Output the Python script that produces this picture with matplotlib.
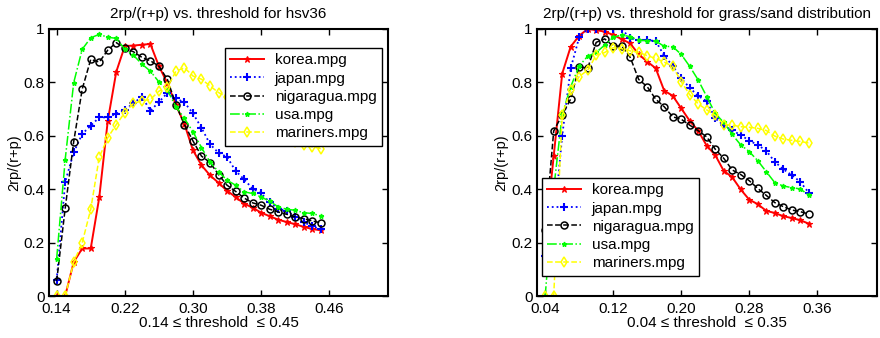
import numpy as np
import matplotlib
matplotlib.use("Agg")
import matplotlib.pyplot as plt

plt.rcParams['font.family'] = ['Liberation Sans', 'DejaVu Sans']

# threshold sweeps
thr_hsv = np.round(np.arange(0.14, 0.455, 0.01), 2)
thr_gs = np.round(np.arange(0.04, 0.355, 0.01), 2)

names = ['korea.mpg', 'japan.mpg', 'nigaragua.mpg', 'usa.mpg', 'mariners.mpg']

# 2rp/(r+p) for hsv36
hsv_korea = [0, 0, 0.127, 0.178, 0.178, 0.369, 0.656, 0.84, 0.936, 0.938, 0.941, 0.944,
             0.861, 0.797, 0.716, 0.644, 0.546, 0.49, 0.452, 0.424, 0.394, 0.371, 0.346,
             0.331, 0.312, 0.299, 0.286, 0.277, 0.269, 0.259, 0.251, 0.246]
hsv_japan = [0.06, 0.427, 0.538, 0.607, 0.638, 0.669, 0.669, 0.683, 0.697, 0.721, 0.747,
             0.694, 0.726, 0.761, 0.74, 0.725, 0.684, 0.63, 0.569, 0.536, 0.521, 0.469,
             0.437, 0.402, 0.384, 0.352, 0.327, 0.319, 0.296, 0.277, 0.261, 0.251]
hsv_nigaragua = [0.056, 0.328, 0.578, 0.775, 0.886, 0.876, 0.921, 0.949, 0.927, 0.915,
                 0.894, 0.881, 0.861, 0.811, 0.717, 0.642, 0.581, 0.524, 0.5, 0.455, 0.415,
                 0.392, 0.367, 0.349, 0.34, 0.325, 0.315, 0.306, 0.296, 0.29, 0.281, 0.274]
hsv_usa = [0.14, 0.511, 0.799, 0.924, 0.967, 0.98, 0.969, 0.965, 0.924, 0.902, 0.869,
           0.842, 0.802, 0.771, 0.709, 0.665, 0.615, 0.556, 0.502, 0.465, 0.434, 0.415,
           0.39, 0.384, 0.371, 0.355, 0.334, 0.325, 0.321, 0.312, 0.309, 0.3]
hsv_mariners = [0, 0, 0.127, 0.2, 0.325, 0.52, 0.593, 0.642, 0.687, 0.721, 0.731, 0.736,
                0.767, 0.781, 0.842, 0.855, 0.824, 0.812, 0.787, 0.762, 0.745, 0.73, 0.71,
                0.69, 0.665, 0.645, 0.625, 0.6, 0.578, 0.565, 0.559, 0.552]

# 2rp/(r+p) for grass/sand distribution
gs_korea = [0.22, 0.524, 0.833, 0.934, 0.975, 1.0, 0.996, 0.99, 0.978, 0.962, 0.946,
            0.905, 0.878, 0.853, 0.769, 0.75, 0.703, 0.656, 0.619, 0.563, 0.528, 0.469,
            0.445, 0.399, 0.361, 0.344, 0.319, 0.311, 0.299, 0.292, 0.284, 0.271]
gs_japan = [0.15, 0.26, 0.6, 0.853, 0.969, 1.0, 1.0, 1.0, 1.0, 1.0, 0.965, 0.958,
            0.958, 0.955, 0.9, 0.862, 0.815, 0.78, 0.749, 0.73, 0.665, 0.64, 0.62, 0.603,
            0.582, 0.566, 0.544, 0.503, 0.475, 0.453, 0.428, 0.387]
gs_nigaragua = [0.247, 0.618, 0.678, 0.738, 0.859, 0.853, 0.95, 0.963, 0.936, 0.936,
                0.894, 0.811, 0.784, 0.737, 0.709, 0.671, 0.662, 0.64, 0.619, 0.596, 0.55,
                0.516, 0.472, 0.455, 0.432, 0.403, 0.377, 0.35, 0.335, 0.322, 0.316, 0.307]
gs_usa = [0, 0.40, 0.68, 0.784, 0.862, 0.898, 0.912, 0.94, 0.969, 0.978, 0.971, 0.958,
          0.956, 0.955, 0.935, 0.934, 0.905, 0.86, 0.809, 0.747, 0.684, 0.65, 0.605, 0.566,
          0.541, 0.507, 0.466, 0.425, 0.412, 0.406, 0.401, 0.378]
gs_mariners = [0, 0, 0.678, 0.772, 0.822, 0.846, 0.902, 0.912, 0.93, 0.926, 0.918, 0.913,
               0.9, 0.89, 0.876, 0.86, 0.803, 0.754, 0.72, 0.697, 0.677, 0.642, 0.64, 0.634,
               0.632, 0.628, 0.62, 0.599, 0.588, 0.583, 0.579, 0.573]

styles = [
    dict(color=(1, 0, 0), ls='-', marker='*', ms=5, mew=0.8, lw=1.4),
    dict(color=(0, 0, 1), ls=':', marker='+', ms=5.5, mew=1.5, lw=1.3),
    dict(color='k', ls='--', marker='o', ms=5, mfc='none', mew=1.1, lw=1.1),
    dict(color=(0, 1, 0), ls='-.', marker='*', ms=3.5, lw=1.1),
    dict(color=(1, 1, 0), ls='--', marker='d', ms=5.5, mfc='none', mew=1.1, lw=1.1),
]

W, H = 880, 338
fig = plt.figure(figsize=(W / 100, H / 100), dpi=100)
ax1 = fig.add_axes([49 / W, 1 - 296 / H, 339 / W, 267 / H])
ax2 = fig.add_axes([536.7 / W, 1 - 296 / H, 340 / W, 267 / H])

FS = 11


def draw(ax, x, series, xlim, xticks, title, xlabel, legend_kw):
    for y, name, st in zip(series, names, styles):
        ax.plot(x, y, label=name, **st)
    ax.set_xlim(*xlim)
    ax.set_ylim(0, 1)
    ax.set_xticks(xticks)
    ax.set_xticklabels([f"{t:.2f}" for t in xticks])
    ax.set_yticks([0, 0.2, 0.4, 0.6, 0.8, 1.0])
    ax.set_yticklabels(['0', '0.2', '0.4', '0.6', '0.8', '1'])
    ax.tick_params(direction='in', top=True, right=True, length=4, width=1,
                   labelsize=FS, colors='k')
    ax.tick_params(axis='x', pad=4)
    ax.tick_params(axis='y', pad=3)
    for sp in ax.spines.values():
        sp.set_linewidth(1.5)
    ax.set_title(title, fontsize=FS, pad=8)
    ax.set_xlabel(xlabel, fontsize=FS, labelpad=0)
    ax.set_ylabel('2rp/(r+p)', fontsize=FS - 0.5, labelpad=2)
    leg = ax.legend(fontsize=FS, fancybox=False, framealpha=1,
                    edgecolor='k', handlelength=2.2, handletextpad=0.7,
                    labelspacing=0.28, borderpad=0.35, borderaxespad=0,
                    **legend_kw)
    leg.get_frame().set_linewidth(1.0)


draw(ax1, thr_hsv, [hsv_korea, hsv_japan, hsv_nigaragua, hsv_usa, hsv_mariners],
     (0.131, 0.529), [0.14, 0.22, 0.30, 0.38, 0.46],
     '2rp/(r+p) vs. threshold for hsv36', '0.14 \u2264 threshold  \u2264 0.45',
     dict(loc='upper right', bbox_to_anchor=(0.982, 0.929)))

draw(ax2, thr_gs, [gs_korea, gs_japan, gs_nigaragua, gs_usa, gs_mariners],
     (0.030, 0.430), [0.04, 0.12, 0.20, 0.28, 0.36],
     '2rp/(r+p) vs. threshold for grass/sand distribution',
     '0.04 \u2264 threshold  \u2264 0.35',
     dict(loc='lower left', bbox_to_anchor=(0.016, 0.076)))

fig.savefig('out.png', dpi=100)
